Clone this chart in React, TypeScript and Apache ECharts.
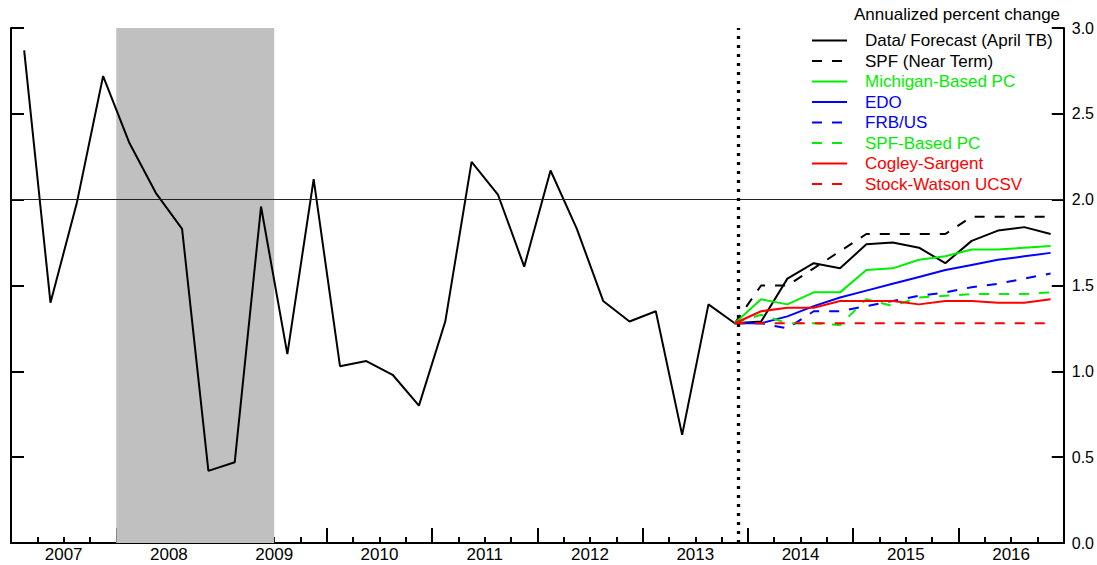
import React, { useEffect, useRef } from "react";
import * as echarts from "echarts";

const years = ["2007", "2008", "2009", "2010", "2011", "2012", "2013", "2014", "2015", "2016"];
const yTicks = [0, 0.5, 1, 1.5, 2, 2.5, 3];

// 2007Q1 .. 2013Q4 (history)
const history = [
  2.87, 1.40, 1.98, 2.72, 2.33, 2.04, 1.83, 0.42, 0.47, 1.96, 1.10, 2.12, 1.03, 1.06,
  0.98, 0.80, 1.29, 2.22, 2.03, 1.61, 2.17, 1.83, 1.41, 1.29, 1.35, 0.63, 1.39, 1.28,
];
// 2013Q4 .. 2016Q4 (forecasts)
const tbForecast = [1.28, 1.29, 1.54, 1.63, 1.60, 1.74, 1.75, 1.72, 1.63, 1.76, 1.82, 1.84, 1.80];
const spf = [1.28, 1.50, 1.50, 1.60, 1.70, 1.80, 1.80, 1.80, 1.80, 1.90, 1.90, 1.90, 1.90];
const michigan = [1.28, 1.42, 1.39, 1.46, 1.46, 1.59, 1.60, 1.65, 1.67, 1.71, 1.71, 1.72, 1.73];
const edo = [1.28, 1.28, 1.32, 1.38, 1.43, 1.47, 1.51, 1.55, 1.59, 1.62, 1.65, 1.67, 1.69];
const frbus = [1.28, 1.28, 1.25, 1.35, 1.35, 1.38, 1.41, 1.44, 1.46, 1.49, 1.51, 1.54, 1.57];
const spfPc = [1.28, 1.33, 1.28, 1.28, 1.27, 1.42, 1.38, 1.43, 1.44, 1.45, 1.45, 1.45, 1.46];
const cogley = [1.28, 1.35, 1.37, 1.37, 1.41, 1.41, 1.41, 1.39, 1.41, 1.41, 1.40, 1.40, 1.42];
const ucsv = [1.28, 1.28, 1.28, 1.28, 1.28, 1.28, 1.28, 1.28, 1.28, 1.28, 1.28, 1.28, 1.28];

const recessionStart = 4; // quarter index (2008Q1 start)
const recessionEnd = 10; // quarter index (2009Q2 end)
const forecastStartIndex = 27; // 2013Q4
const dottedLineAt = 27.63;
const refLevel = 2.0;

const FONT = "'Liberation Sans', Arial, Helvetica, sans-serif";

function toPoints(values: number[], start: number) {
  return values.map((v, k) => [start + k + 0.5, v]);
}

export default function App() {
  const ref = useRef<HTMLDivElement>(null);
  useEffect(() => {
    if (!ref.current) return;
    const chart = echarts.init(ref.current, undefined, { renderer: "svg" });
    const dataLine = history.concat(tbForecast.slice(1));

    const defs = [
      { name: "Data/ Forecast (April TB)", color: "#000000", type: "solid", values: dataLine, start: 0 },
      { name: "SPF (Near Term)", color: "#000000", type: [10, 10], values: spf, start: forecastStartIndex },
      { name: "Michigan-Based PC", color: "#00ee00", type: "solid", values: michigan, start: forecastStartIndex },
      { name: "EDO", color: "#0000ff", type: "solid", values: edo, start: forecastStartIndex },
      { name: "FRB/US", color: "#0000ff", type: [10, 10], values: frbus, start: forecastStartIndex },
      { name: "SPF-Based PC", color: "#00ee00", type: [10, 10], values: spfPc, start: forecastStartIndex },
      { name: "Cogley-Sargent", color: "#ff0000", type: "solid", values: cogley, start: forecastStartIndex },
      { name: "Stock-Watson UCSV", color: "#ff0000", type: [10, 10], values: ucsv, start: forecastStartIndex },
    ];

    const series: any[] = [
      {
        name: "__bg",
        type: "line",
        data: [],
        z: 1,
        silent: true,
        markArea: {
          silent: true,
          itemStyle: { color: "#c0c0c0" },
          data: [[{ xAxis: recessionStart }, { xAxis: recessionEnd }]],
        },
        markLine: {
          silent: true,
          symbol: "none",
          label: { show: false },
          data: [
            { yAxis: refLevel, lineStyle: { color: "#222", width: 1, type: "solid" } },
            { xAxis: dottedLineAt, lineStyle: { color: "#000", width: 3.3, type: [3, 6] } },
          ],
        },
      },
    ];
    defs.forEach((d) => {
      series.push({
        name: d.name,
        type: "line",
        z: 3,
        symbol: "none",
        showSymbol: false,
        color: d.color,
        lineStyle: { color: d.color, width: 2, type: d.type },
        data: toPoints(d.values, d.start),
      });
    });

    chart.setOption({
      animation: false,
      backgroundColor: "#ffffff",
      textStyle: { fontFamily: FONT },
      title: {
        text: "Annualized percent change",
        left: 854,
        top: 6,
        padding: 0,
        textStyle: { fontSize: 17, fontWeight: "normal", color: "#000", fontFamily: FONT },
      },
      legend: {
        orient: "vertical",
        left: 811,
        top: 32,
        padding: 0,
        itemWidth: 35,
        itemHeight: 14,
        itemGap: 3.5,
        selectedMode: false,
        itemStyle: { opacity: 0 },
        textStyle: { fontSize: 17, fontFamily: FONT, padding: [0, 0, 0, 13] },
        data: defs.map((d) => ({ name: d.name, textStyle: { color: d.color } })),
      },
      grid: { left: 11, right: 33, top: 28, bottom: 22 },
      xAxis: [
        {
          type: "value",
          min: 0,
          max: 40,
          interval: 1,
          axisLine: { show: true, lineStyle: { color: "#000", width: 2 } },
          axisTick: { show: true, inside: true, length: 6, lineStyle: { color: "#000", width: 2 } },
          axisLabel: { show: false },
          splitLine: { show: false },
        },
        {
          type: "category",
          data: years,
          position: "bottom",
          boundaryGap: true,
          axisLine: { show: false },
          axisTick: { show: true, inside: true, length: 15, interval: 0, lineStyle: { color: "#000", width: 2 } },
          axisLabel: { show: true, fontSize: 17, color: "#000", margin: 3, fontFamily: FONT, interval: 0 },
          splitLine: { show: false },
        },
      ],
      yAxis: [
        {
          type: "value",
          min: yTicks[0],
          max: yTicks[yTicks.length - 1],
          interval: 0.5,
          position: "left",
          axisLine: { show: true, lineStyle: { color: "#000", width: 2 } },
          axisTick: { show: true, inside: true, length: 13, lineStyle: { color: "#000", width: 2 } },
          axisLabel: { show: false },
          splitLine: { show: false },
        },
        {
          type: "value",
          min: yTicks[0],
          max: yTicks[yTicks.length - 1],
          interval: 0.5,
          position: "right",
          axisLine: { show: true, lineStyle: { color: "#000", width: 2 } },
          axisTick: { show: true, inside: true, length: 12, lineStyle: { color: "#000", width: 2 } },
          axisLabel: {
            show: true,
            fontSize: 16,
            color: "#000",
            margin: 8,
            fontFamily: FONT,
            formatter: (v: number) => v.toFixed(1),
          },
          splitLine: { show: false },
        },
      ],
      series,
    });
    return () => chart.dispose();
  }, []);
  return (
    <div
      ref={ref}
      style={{ position: "fixed", left: 0, top: 0, width: 1097, height: 565, background: "#fff" }}
    />
  );
}
